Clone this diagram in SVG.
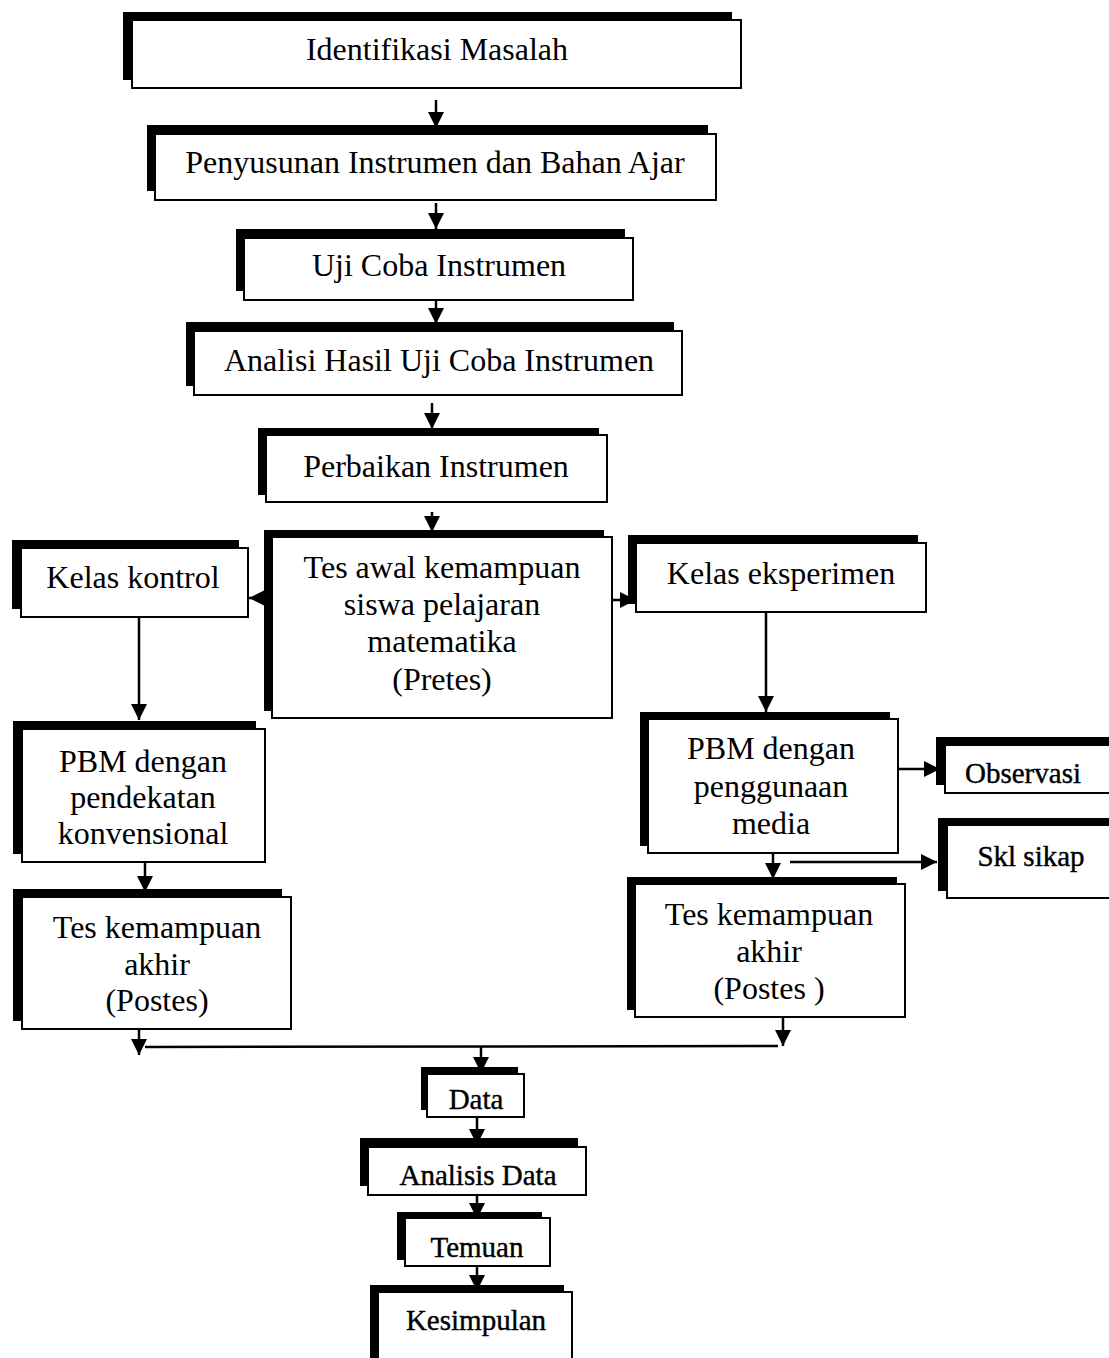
<svg xmlns="http://www.w3.org/2000/svg" width="1109" height="1358" viewBox="0 0 1109 1358">
<style>
.sh{fill:#000}
.bx{fill:#fff;stroke:#000;stroke-width:2}
.t{font-family:"Liberation Serif","Times New Roman",serif;font-size:32px;text-anchor:middle;fill:#000}
.s{font-family:"Liberation Serif","Times New Roman",serif;font-size:29px;text-anchor:middle;fill:#000;stroke:#000;stroke-width:0.4}
.c{fill:none;stroke:#000;stroke-width:2.5}
</style>
<defs>
<marker id="ah" markerUnits="userSpaceOnUse" markerWidth="18" markerHeight="18" refX="16" refY="8" orient="auto">
<path d="M0,0 L16,8 L0,16 z" fill="#000"/>
</marker>
</defs>
<rect width="1109" height="1358" fill="#fff"/>

<g id="connectors">
<line class="c" x1="436" y1="100" x2="436" y2="128" marker-end="url(#ah)"/>
<line class="c" x1="436" y1="203" x2="436" y2="229" marker-end="url(#ah)"/>
<line class="c" x1="436" y1="300" x2="436" y2="324" marker-end="url(#ah)"/>
<line class="c" x1="432" y1="403" x2="432" y2="429" marker-end="url(#ah)"/>
<line class="c" x1="432" y1="512" x2="432" y2="532" marker-end="url(#ah)"/>
<line class="c" x1="266" y1="598" x2="249" y2="598" marker-end="url(#ah)"/>
<line class="c" x1="612" y1="600" x2="636" y2="600" marker-end="url(#ah)"/>
<line class="c" x1="139" y1="617" x2="139" y2="720" marker-end="url(#ah)"/>
<line class="c" x1="766" y1="612" x2="766" y2="712" marker-end="url(#ah)"/>
<line class="c" x1="898" y1="769" x2="940" y2="769" marker-end="url(#ah)"/>
<line class="c" x1="790" y1="862" x2="937" y2="862" marker-end="url(#ah)"/>
<line class="c" x1="773" y1="853" x2="773" y2="879" marker-end="url(#ah)"/>
<line class="c" x1="145" y1="862" x2="145" y2="892" marker-end="url(#ah)"/>
<line class="c" x1="139" y1="1029" x2="139" y2="1055" marker-end="url(#ah)"/>
<line class="c" x1="145" y1="1047" x2="778" y2="1046"/>
<line class="c" x1="783" y1="1017" x2="783" y2="1046" marker-end="url(#ah)"/>
<line class="c" x1="481" y1="1047" x2="481" y2="1073" marker-end="url(#ah)"/>
<line class="c" x1="477" y1="1117" x2="477" y2="1145" marker-end="url(#ah)"/>
<line class="c" x1="477" y1="1195" x2="477" y2="1219" marker-end="url(#ah)"/>
<line class="c" x1="477" y1="1266" x2="477" y2="1291" marker-end="url(#ah)"/>
</g>

<g id="n1">
<rect class="sh" x="123" y="12" width="609" height="68"/>
<rect class="bx" x="132" y="20" width="609" height="68"/>
<text class="t" x="437" y="60">Identifikasi Masalah</text>
</g>
<g id="n2">
<rect class="sh" x="147" y="125" width="561" height="66"/>
<rect class="bx" x="155" y="134" width="561" height="66"/>
<text class="t" x="435" y="173">Penyusunan Instrumen dan Bahan Ajar</text>
</g>
<g id="n3">
<rect class="sh" x="236" y="229" width="389" height="62"/>
<rect class="bx" x="244" y="238" width="389" height="62"/>
<text class="t" x="439" y="276">Uji Coba Instrumen</text>
</g>
<g id="n4">
<rect class="sh" x="186" y="322" width="488" height="64"/>
<rect class="bx" x="194" y="331" width="488" height="64"/>
<text class="t" x="439" y="371">Analisi Hasil Uji Coba Instrumen</text>
</g>
<g id="n5">
<rect class="sh" x="258" y="428" width="341" height="67"/>
<rect class="bx" x="266" y="435" width="341" height="67"/>
<text class="t" x="436" y="477">Perbaikan Instrumen</text>
</g>
<g id="n6">
<rect class="sh" x="264" y="530" width="340" height="181"/>
<rect class="bx" x="272" y="537" width="340" height="181"/>
<text class="t" x="442" y="578">Tes awal kemampuan</text>
<text class="t" x="442" y="615">siswa pelajaran</text>
<text class="t" x="442" y="652">matematika</text>
<text class="t" x="442" y="690">(Pretes)</text>
</g>
<g id="n7">
<rect class="sh" x="12" y="540" width="227" height="69"/>
<rect class="bx" x="21" y="548" width="227" height="69"/>
<text class="t" x="133" y="588">Kelas kontrol</text>
</g>
<g id="n8">
<rect class="sh" x="628" y="535" width="290" height="69"/>
<rect class="bx" x="636" y="543" width="290" height="69"/>
<text class="t" x="781" y="584">Kelas eksperimen</text>
</g>
<g id="n9">
<rect class="sh" x="13" y="721" width="243" height="133"/>
<rect class="bx" x="22" y="729" width="243" height="133"/>
<text class="t" x="143" y="772">PBM dengan</text>
<text class="t" x="143" y="808">pendekatan</text>
<text class="t" x="143" y="844">konvensional</text>
</g>
<g id="n10">
<rect class="sh" x="640" y="712" width="250" height="134"/>
<rect class="bx" x="648" y="719" width="250" height="134"/>
<text class="t" x="771" y="759">PBM dengan</text>
<text class="t" x="771" y="797">penggunaan</text>
<text class="t" x="771" y="834">media</text>
</g>
<g id="n11">
<rect class="sh" x="936" y="737" width="174" height="48"/>
<rect class="bx" x="945" y="745" width="174" height="48"/>
<text class="s" x="1023" y="783">Observasi</text>
</g>
<g id="n12">
<rect class="sh" x="938" y="818" width="180" height="73"/>
<rect class="bx" x="947" y="825" width="180" height="73"/>
<text class="s" x="1031" y="866">Skl sikap</text>
</g>
<g id="n13">
<rect class="sh" x="13" y="889" width="269" height="132"/>
<rect class="bx" x="22" y="897" width="269" height="132"/>
<text class="t" x="157" y="938">Tes kemampuan</text>
<text class="t" x="157" y="975">akhir</text>
<text class="t" x="157" y="1011">(Postes)</text>
</g>
<g id="n14">
<rect class="sh" x="627" y="877" width="270" height="133"/>
<rect class="bx" x="635" y="884" width="270" height="133"/>
<text class="t" x="769" y="925">Tes kemampuan</text>
<text class="t" x="769" y="962">akhir</text>
<text class="t" x="769" y="999">(Postes )</text>
</g>
<g id="n15">
<rect class="sh" x="421" y="1067" width="97" height="43"/>
<rect class="bx" x="427" y="1074" width="97" height="43"/>
<text class="s" x="476" y="1109">Data</text>
</g>
<g id="n16">
<rect class="sh" x="360" y="1138" width="218" height="48"/>
<rect class="bx" x="368" y="1147" width="218" height="48"/>
<text class="s" x="478" y="1185">Analisis Data</text>
</g>
<g id="n17">
<rect class="sh" x="397" y="1212" width="145" height="48"/>
<rect class="bx" x="405" y="1218" width="145" height="48"/>
<text class="s" x="477" y="1257">Temuan</text>
</g>
<g id="n18">
<rect class="sh" x="370" y="1285" width="194" height="80"/>
<rect class="bx" x="378" y="1292" width="194" height="80"/>
<text class="s" x="476" y="1330">Kesimpulan</text>
</g>
</svg>
